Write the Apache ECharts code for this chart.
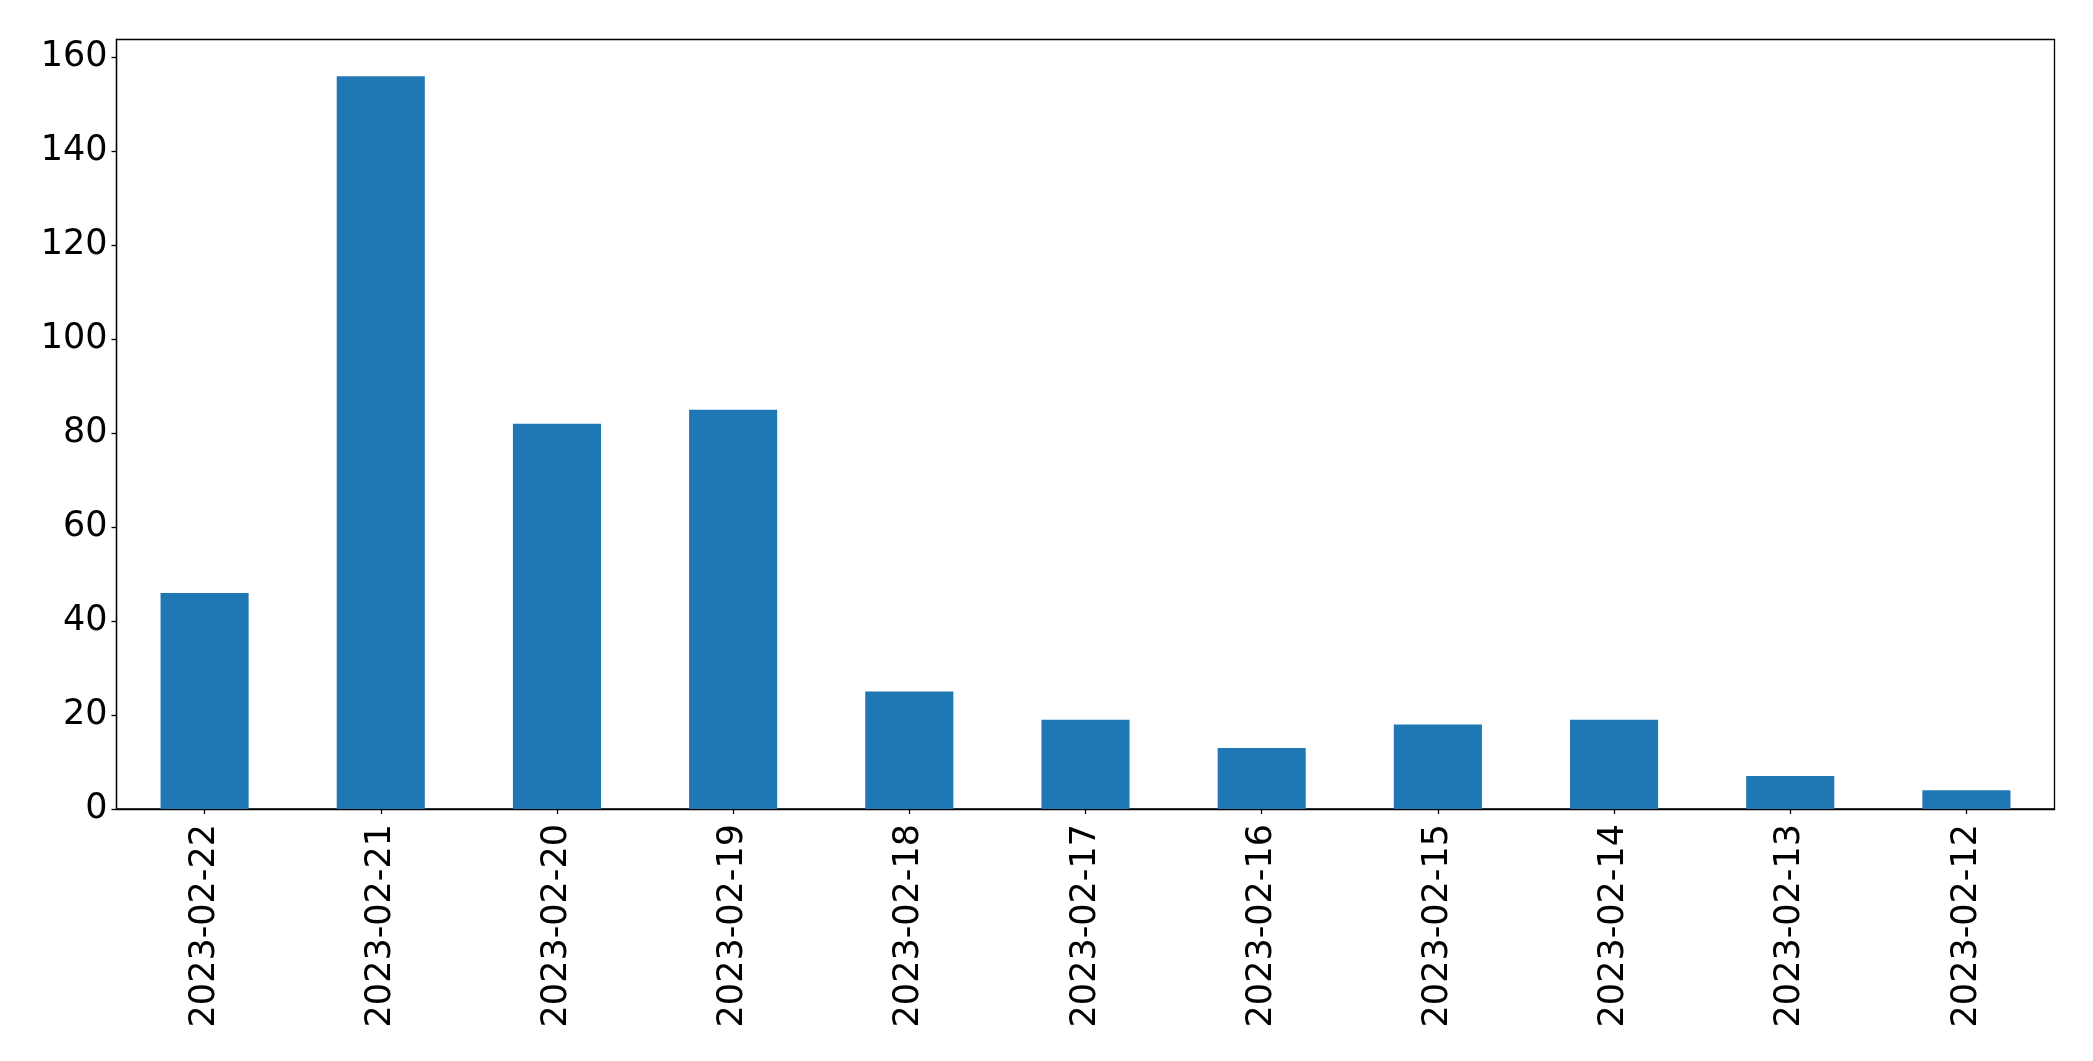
<!DOCTYPE html>
<html>
<head>
<meta charset="utf-8">
<script src="https://cdn.jsdelivr.net/npm/echarts@6/dist/echarts.min.js"></script>
<style>
html,body{margin:0;padding:0;background:#fff;}
#chart{width:2093px;height:1061px;}
</style>
</head>
<body>
<div id="chart"></div>
<script>
const categories = ["2023-02-22","2023-02-21","2023-02-20","2023-02-19","2023-02-18","2023-02-17","2023-02-16","2023-02-15","2023-02-14","2023-02-13","2023-02-12"];
const values = [46, 156, 82, 85, 25, 19, 13, 18, 19, 7, 4];
const yTicks = [0, 20, 40, 60, 80, 100, 120, 140, 160];

const chart = echarts.init(document.getElementById('chart'), null, {renderer: 'canvas'});
const font = 'DejaVu Sans';
chart.setOption({
  animation: false,
  backgroundColor: '#fff',
  grid: {
    left: 116.5, right: 38.5, top: 39.5, bottom: 252,
    show: true, borderColor: '#000', borderWidth: 1.3, backgroundColor: 'transparent',
    containLabel: false
  },
  xAxis: {
    type: 'category',
    data: categories,
    axisLine: {show: true, lineStyle: {color: '#000', width: 1.3}},
    axisTick: {show: true, alignWithLabel: true, length: 5, lineStyle: {color: '#000', width: 1.3}},
    axisLabel: {rotate: 90, fontSize: 35, fontFamily: font, color: '#000', margin: 15, interval: 0},
    splitLine: {show: false}
  },
  yAxis: {
    type: 'value',
    min: 0,
    max: 163.8,
    interval: 20,
    axisLine: {show: true, lineStyle: {color: '#000', width: 1.3}},
    axisTick: {show: true, length: 5, lineStyle: {color: '#000', width: 1.3}, customValues: yTicks},
    axisLabel: {fontSize: 35, fontFamily: font, color: '#000', margin: 9, customValues: yTicks},
    splitLine: {show: false}
  },
  series: [{
    type: 'bar',
    data: values,
    barWidth: '50%',
    itemStyle: {color: '#1f77b4'}
  }]
});
</script>
</body>
</html>
